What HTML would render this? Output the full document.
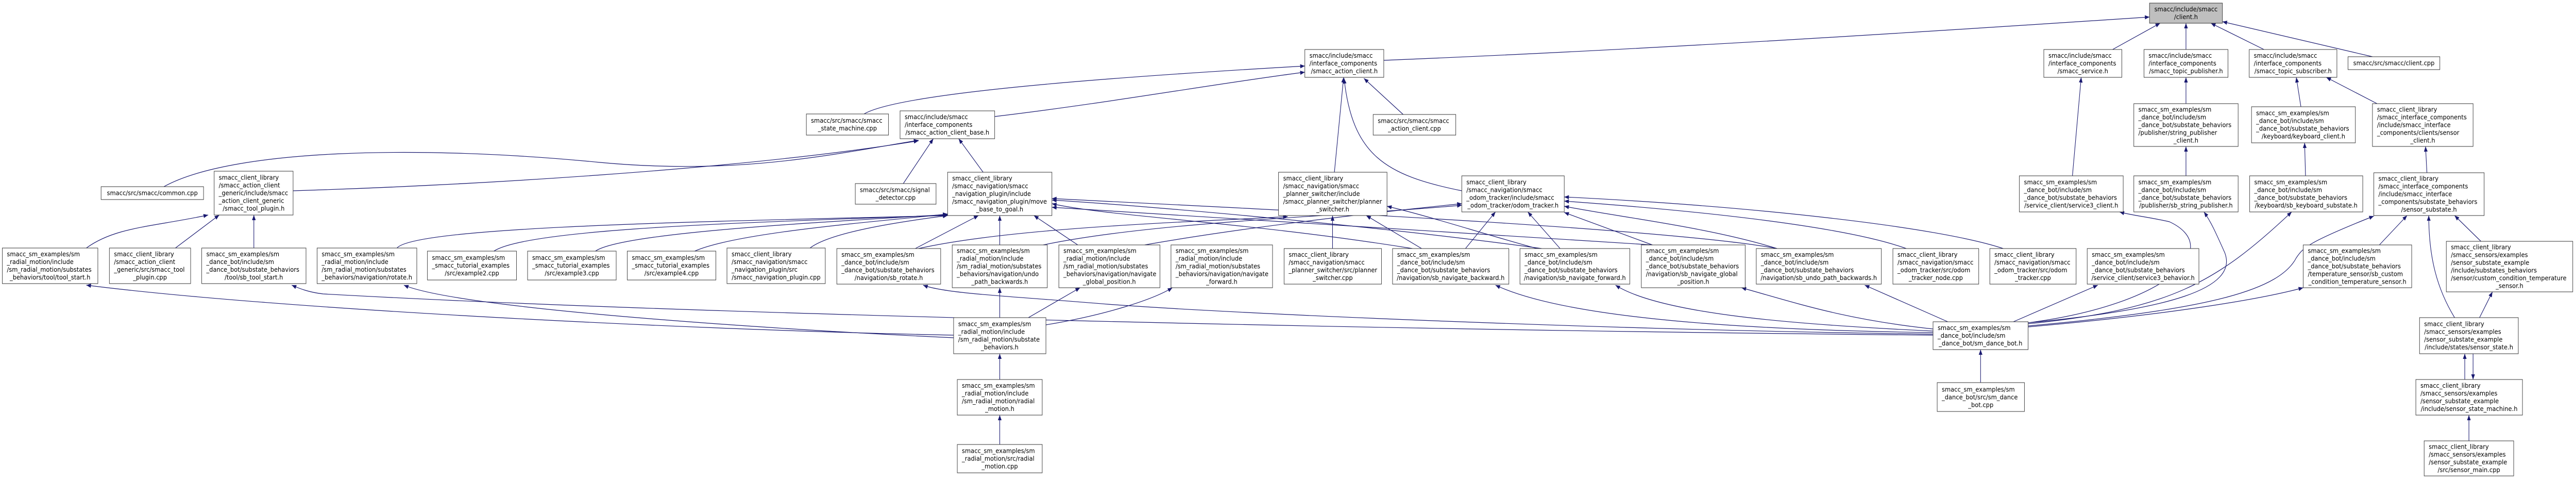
<!DOCTYPE html>
<html><head><meta charset="utf-8"><style>
html,body{margin:0;padding:0;width:100%;height:100%;overflow:hidden;background:#fff}
svg{position:fixed;left:0;top:0;width:100vw;height:100vh;display:block}
text{font-family:"DejaVu Sans","Liberation Sans",sans-serif;font-size:12.8px;fill:#000}
.c{text-anchor:middle}
rect{fill:#fff;stroke:#333;stroke-width:1}
</style></head><body>
<svg viewBox="0 0 5581 927" preserveAspectRatio="none">
<defs><marker id="a" viewBox="0 0 10 8" refX="10" refY="4" markerWidth="11" markerHeight="8" markerUnits="userSpaceOnUse" orient="auto"><path d="M0,0L10,4L0,8z" fill="#191970"/></marker></defs>
<g fill="none" stroke="#191970" stroke-width="1.2" marker-end="url(#a)">
<path d="M2998,117 C3600,95 4200,60 4657,33"/>
<path d="M4577,96 L4680,45"/>
<path d="M4736,96 L4736,45"/>
<path d="M4905,96 L4790,45"/>
<path d="M5140,110 L4815,42"/>
<path d="M2155,226 C2400,200 2650,160 2827,140"/>
<path d="M1872,221 C1950,180 2400,150 2827,128"/>
<path d="M2891,334 L2911,150"/>
<path d="M3167,370 C3000,340 2930,300 2912,152"/>
<path d="M3040,222 L2955,152"/>
<path d="M355,362 C500,290 900,280 1300,315 C1600,340 1800,300 1990,272"/>
<path d="M635,370 C1000,360 1600,330 1990,273"/>
<path d="M1957,356 L2022,269"/>
<path d="M2130,334 L2077,269"/>
<path d="M187,481 C250,440 330,440 451,417"/>
<path d="M380,481 L475,417"/>
<path d="M550,481 L550,417"/>
<path d="M4490,341 L4509,150"/>
<path d="M4736,201 L4736,150"/>
<path d="M4736,341 L4736,284"/>
<path d="M4985,207 L4975,150"/>
<path d="M5150,201 L5040,150"/>
<path d="M4995,341 L4993,277"/>
<path d="M5258,335 L5255,284"/>
<path d="M5155,475 L5215,418"/>
<path d="M5375,468 L5318,418"/>
<path d="M5318,616 C5280,560 5262,500 5262,418"/>
<path d="M5372,616 L5400,566"/>
<path d="M5340,736 L5340,686"/>
<path d="M5358,686 L5358,736"/>
<path d="M5349,855 L5349,805"/>
<path d="M4394,632 C4800,600 4940,560 4975,500 C4990,480 5000,470 5143,419"/>
<path d="M4394,634 C4700,610 4900,580 4990,558"/>
<path d="M4394,628 C4700,600 4800,550 4965,411"/>
<path d="M4394,626 C4700,600 4850,560 4820,490 C4800,450 4790,430 4775,411"/>
<path d="M4394,626 C4700,590 4820,480 4700,430 C4650,420 4620,418 4592,411"/>
<path d="M4362,624 L4545,553"/>
<path d="M4291,742 L4291,678"/>
<path d="M4220,624 L4040,553"/>
<path d="M4188,638 C4000,620 3900,590 3773,558"/>
<path d="M4188,642 C3900,630 3600,610 3500,553"/>
<path d="M4188,645 C3800,640 3400,620 3240,553"/>
<path d="M4188,648 C3500,640 2700,610 2400,590 C2200,575 2050,570 2000,553"/>
<path d="M4188,650 C3000,640 1500,610 700,570 C670,567 650,560 632,553"/>
<path d="M2066,650 C1500,640 600,600 187,553"/>
<path d="M2066,655 C1700,640 1000,600 875,553"/>
<path d="M2166,616 L2166,558"/>
<path d="M2228,616 L2340,558"/>
<path d="M2266,630 C2400,610 2500,580 2540,558"/>
<path d="M2166,736 L2166,686"/>
<path d="M2166,862 L2166,805"/>
<path d="M860,481 C900,440 1500,430 2053,418"/>
<path d="M1983,482 L2120,418"/>
<path d="M1070,487 C1150,440 1700,430 2053,417"/>
<path d="M1290,487 C1350,450 1800,430 2053,416"/>
<path d="M1505,487 C1600,450 1900,430 2053,415"/>
<path d="M1755,481 C1800,450 1950,430 2053,418"/>
<path d="M2166,475 L2166,418"/>
<path d="M2335,475 L2240,418"/>
<path d="M3060,482 C2700,430 2400,420 2279,395"/>
<path d="M3340,482 C3000,440 2500,400 2279,388"/>
<path d="M3850,482 C3600,440 2600,400 2279,385"/>
<path d="M3580,475 L2279,402"/>
<path d="M2887,482 L2887,418"/>
<path d="M3080,482 L2960,418"/>
<path d="M3330,482 C3200,450 3100,420 3005,400"/>
<path d="M1990,482 C2200,440 2600,430 2790,420"/>
<path d="M3175,482 L3240,411"/>
<path d="M3380,482 L3310,411"/>
<path d="M3580,475 L3389,412"/>
<path d="M4130,482 C4000,440 3700,410 3389,390"/>
<path d="M4340,482 C4200,440 3800,400 3389,382"/>
<path d="M2260,475 C2500,430 2900,420 3167,398"/>
<path d="M2480,475 C2700,440 3000,410 3167,395"/>
<path d="M3850,482 C3700,440 3500,420 3389,400"/>
</g>

<rect x="4657" y="6" width="158" height="39" style="fill:#bfbfbf"/>
<text class="c" x="4736" y="22">smacc/include/smacc</text><text class="c" x="4736" y="37">/client.h</text>

<rect x="2827" y="96" width="171" height="54"/>
<text x="2837" y="112">smacc/include/smacc</text><text x="2837" y="127">/interface_components</text><text class="c" x="2912.5" y="142">/smacc_action_client.h</text>

<rect x="4428" y="96" width="169" height="54"/>
<text x="4438" y="112">smacc/include/smacc</text><text x="4438" y="127">/interface_components</text><text class="c" x="4512.5" y="142">/smacc_service.h</text>

<rect x="4645" y="96" width="182" height="54"/>
<text x="4655" y="112">smacc/include/smacc</text><text x="4655" y="127">/interface_components</text><text class="c" x="4736" y="142">/smacc_topic_publisher.h</text>

<rect x="4873" y="96" width="190" height="54"/>
<text x="4883" y="112">smacc/include/smacc</text><text x="4883" y="127">/interface_components</text><text class="c" x="4968" y="142">/smacc_topic_subscriber.h</text>

<rect x="5087" y="110" width="199" height="25"/>
<text class="c" x="5186.5" y="126.5">smacc/src/smacc/client.cpp</text>

<rect x="1747" y="221" width="178" height="41"/>
<text x="1757" y="238">smacc/src/smacc/smacc</text><text class="c" x="1836" y="253">_state_machine.cpp</text>

<rect x="1950" y="215" width="205" height="54"/>
<text x="1960" y="231">smacc/include/smacc</text><text x="1960" y="246">/interface_components</text><text class="c" x="2052.5" y="261">/smacc_action_client_base.h</text>

<rect x="2975" y="222" width="179" height="40"/>
<text x="2985" y="238.5">smacc/src/smacc/smacc</text><text class="c" x="3064.5" y="253.5">_action_client.cpp</text>

<rect x="219" y="362" width="222" height="25"/>
<text class="c" x="330" y="378.5">smacc/src/smacc/common.cpp</text>

<rect x="464" y="332" width="171" height="85"/>
<text x="474" y="348.5">smacc_client_library</text><text x="474" y="363.5">/smacc_action_client</text><text x="474" y="378.5">_generic/include/smacc</text><text x="474" y="393.5">_action_client_generic</text><text class="c" x="549.5" y="408.5">/smacc_tool_plugin.h</text>

<rect x="1853" y="356" width="175" height="40"/>
<text x="1863" y="372.5">smacc/src/smacc/signal</text><text class="c" x="1940.5" y="387.5">_detector.cpp</text>

<rect x="2053" y="334" width="226" height="84"/>
<text x="2063" y="350">smacc_client_library</text><text x="2063" y="365">/smacc_navigation/smacc</text><text x="2063" y="380">_navigation_plugin/include</text><text x="2063" y="395">/smacc_navigation_plugin/move</text><text class="c" x="2166" y="410">_base_to_goal.h</text>

<rect x="2770" y="334" width="235" height="84"/>
<text x="2780" y="350">smacc_client_library</text><text x="2780" y="365">/smacc_navigation/smacc</text><text x="2780" y="380">_planner_switcher/include</text><text x="2780" y="395">/smacc_planner_switcher/planner</text><text class="c" x="2887.5" y="410">_switcher.h</text>

<rect x="3167" y="341" width="222" height="70"/>
<text x="3177" y="357.5">smacc_client_library</text><text x="3177" y="372.5">/smacc_navigation/smacc</text><text x="3177" y="387.5">_odom_tracker/include/smacc</text><text class="c" x="3278" y="402.5">_odom_tracker/odom_tracker.h</text>

<rect x="4375" y="341" width="225" height="70"/>
<text x="4385" y="357.5">smacc_sm_examples/sm</text><text x="4385" y="372.5">_dance_bot/include/sm</text><text x="4385" y="387.5">_dance_bot/substate_behaviors</text><text class="c" x="4487.5" y="402.5">/service_client/service3_client.h</text>

<rect x="4623" y="201" width="226" height="83"/>
<text x="4633" y="216.5">smacc_sm_examples/sm</text><text x="4633" y="231.5">_dance_bot/include/sm</text><text x="4633" y="246.5">_dance_bot/substate_behaviors</text><text x="4633" y="261.5">/publisher/string_publisher</text><text class="c" x="4736" y="276.5">_client.h</text>

<rect x="4878" y="207" width="225" height="70"/>
<text x="4888" y="223.5">smacc_sm_examples/sm</text><text x="4888" y="238.5">_dance_bot/include/sm</text><text x="4888" y="253.5">_dance_bot/substate_behaviors</text><text class="c" x="4990.5" y="268.5">/keyboard/keyboard_client.h</text>

<rect x="5140" y="201" width="218" height="83"/>
<text x="5150" y="216.5">smacc_client_library</text><text x="5150" y="231.5">/smacc_interface_components</text><text x="5150" y="246.5">/include/smacc_interface</text><text x="5150" y="261.5">_components/clients/sensor</text><text class="c" x="5249" y="276.5">_client.h</text>

<rect x="4623" y="341" width="226" height="70"/>
<text x="4633" y="357.5">smacc_sm_examples/sm</text><text x="4633" y="372.5">_dance_bot/include/sm</text><text x="4633" y="387.5">_dance_bot/substate_behaviors</text><text class="c" x="4736" y="402.5">/publisher/sb_string_publisher.h</text>

<rect x="4874" y="341" width="245" height="70"/>
<text x="4884" y="357.5">smacc_sm_examples/sm</text><text x="4884" y="372.5">_dance_bot/include/sm</text><text x="4884" y="387.5">_dance_bot/substate_behaviors</text><text class="c" x="4996.5" y="402.5">/keyboard/sb_keyboard_substate.h</text>

<rect x="5143" y="335" width="239" height="83"/>
<text x="5153" y="350.5">smacc_client_library</text><text x="5153" y="365.5">/smacc_interface_components</text><text x="5153" y="380.5">/include/smacc_interface</text><text x="5153" y="395.5">_components/substate_behaviors</text><text class="c" x="5262.5" y="410.5">/sensor_substate.h</text>

<rect x="5" y="481" width="207" height="69"/>
<text x="15" y="497">smacc_sm_examples/sm</text><text x="15" y="512">_radial_motion/include</text><text x="15" y="527">/sm_radial_motion/substates</text><text class="c" x="108.5" y="542">_behaviors/tool/tool_start.h</text>

<rect x="237" y="481" width="176" height="69"/>
<text x="247" y="497">smacc_client_library</text><text x="247" y="512">/smacc_action_client</text><text x="247" y="527">_generic/src/smacc_tool</text><text class="c" x="325" y="542">_plugin.cpp</text>

<rect x="437" y="481" width="226" height="69"/>
<text x="447" y="497">smacc_sm_examples/sm</text><text x="447" y="512">_dance_bot/include/sm</text><text x="447" y="527">_dance_bot/substate_behaviors</text><text class="c" x="550" y="542">/tool/sb_tool_start.h</text>

<rect x="687" y="481" width="216" height="69"/>
<text x="697" y="497">smacc_sm_examples/sm</text><text x="697" y="512">_radial_motion/include</text><text x="697" y="527">/sm_radial_motion/substates</text><text class="c" x="795" y="542">_behaviors/navigation/rotate.h</text>

<rect x="926" y="487" width="193" height="56"/>
<text x="936" y="504">smacc_sm_examples/sm</text><text x="936" y="519">_smacc_tutorial_examples</text><text class="c" x="1022.5" y="534">/src/example2.cpp</text>

<rect x="1143" y="487" width="192" height="56"/>
<text x="1153" y="504">smacc_sm_examples/sm</text><text x="1153" y="519">_smacc_tutorial_examples</text><text class="c" x="1239" y="534">/src/example3.cpp</text>

<rect x="1359" y="487" width="192" height="56"/>
<text x="1369" y="504">smacc_sm_examples/sm</text><text x="1369" y="519">_smacc_tutorial_examples</text><text class="c" x="1455" y="534">/src/example4.cpp</text>

<rect x="1575" y="481" width="213" height="69"/>
<text x="1585" y="497">smacc_client_library</text><text x="1585" y="512">/smacc_navigation/smacc</text><text x="1585" y="527">_navigation_plugin/src</text><text class="c" x="1681.5" y="542">/smacc_navigation_plugin.cpp</text>

<rect x="1813" y="482" width="225" height="69"/>
<text x="1823" y="498">smacc_sm_examples/sm</text><text x="1823" y="513">_dance_bot/include/sm</text><text x="1823" y="528">_dance_bot/substate_behaviors</text><text class="c" x="1925.5" y="543">/navigation/sb_rotate.h</text>

<rect x="2063" y="475" width="206" height="83"/>
<text x="2073" y="490.5">smacc_sm_examples/sm</text><text x="2073" y="505.5">_radial_motion/include</text><text x="2073" y="520.5">/sm_radial_motion/substates</text><text x="2073" y="535.5">_behaviors/navigation/undo</text><text class="c" x="2166" y="550.5">_path_backwards.h</text>

<rect x="2294" y="475" width="219" height="83"/>
<text x="2304" y="490.5">smacc_sm_examples/sm</text><text x="2304" y="505.5">_radial_motion/include</text><text x="2304" y="520.5">/sm_radial_motion/substates</text><text x="2304" y="535.5">_behaviors/navigation/navigate</text><text class="c" x="2403.5" y="550.5">_global_position.h</text>

<rect x="2537" y="475" width="220" height="83"/>
<text x="2547" y="490.5">smacc_sm_examples/sm</text><text x="2547" y="505.5">_radial_motion/include</text><text x="2547" y="520.5">/sm_radial_motion/substates</text><text x="2547" y="535.5">_behaviors/navigation/navigate</text><text class="c" x="2647" y="550.5">_forward.h</text>

<rect x="2782" y="482" width="211" height="69"/>
<text x="2792" y="498">smacc_client_library</text><text x="2792" y="513">/smacc_navigation/smacc</text><text x="2792" y="528">_planner_switcher/src/planner</text><text class="c" x="2887.5" y="543">_switcher.cpp</text>

<rect x="3017" y="482" width="252" height="69"/>
<text x="3027" y="498">smacc_sm_examples/sm</text><text x="3027" y="513">_dance_bot/include/sm</text><text x="3027" y="528">_dance_bot/substate_behaviors</text><text class="c" x="3143" y="543">/navigation/sb_navigate_backward.h</text>

<rect x="3293" y="482" width="238" height="69"/>
<text x="3303" y="498">smacc_sm_examples/sm</text><text x="3303" y="513">_dance_bot/include/sm</text><text x="3303" y="528">_dance_bot/substate_behaviors</text><text class="c" x="3412" y="543">/navigation/sb_navigate_forward.h</text>

<rect x="3556" y="475" width="225" height="83"/>
<text x="3566" y="490.5">smacc_sm_examples/sm</text><text x="3566" y="505.5">_dance_bot/include/sm</text><text x="3566" y="520.5">_dance_bot/substate_behaviors</text><text x="3566" y="535.5">/navigation/sb_navigate_global</text><text class="c" x="3668.5" y="550.5">_position.h</text>

<rect x="3805" y="482" width="271" height="69"/>
<text x="3815" y="498">smacc_sm_examples/sm</text><text x="3815" y="513">_dance_bot/include/sm</text><text x="3815" y="528">_dance_bot/substate_behaviors</text><text class="c" x="3940.5" y="543">/navigation/sb_undo_path_backwards.h</text>

<rect x="4101" y="482" width="186" height="69"/>
<text x="4111" y="498">smacc_client_library</text><text x="4111" y="513">/smacc_navigation/smacc</text><text x="4111" y="528">_odom_tracker/src/odom</text><text class="c" x="4194" y="543">_tracker_node.cpp</text>

<rect x="4311" y="482" width="187" height="69"/>
<text x="4321" y="498">smacc_client_library</text><text x="4321" y="513">/smacc_navigation/smacc</text><text x="4321" y="528">_odom_tracker/src/odom</text><text class="c" x="4404.5" y="543">_tracker.cpp</text>

<rect x="4522" y="482" width="242" height="69"/>
<text x="4532" y="498">smacc_sm_examples/sm</text><text x="4532" y="513">_dance_bot/include/sm</text><text x="4532" y="528">_dance_bot/substate_behaviors</text><text class="c" x="4643" y="543">/service_client/service3_behavior.h</text>

<rect x="4990" y="475" width="235" height="83"/>
<text x="5000" y="490.5">smacc_sm_examples/sm</text><text x="5000" y="505.5">_dance_bot/include/sm</text><text x="5000" y="520.5">_dance_bot/substate_behaviors</text><text x="5000" y="535.5">/temperature_sensor/sb_custom</text><text class="c" x="5107.5" y="550.5">_condition_temperature_sensor.h</text>

<rect x="5300" y="468" width="274" height="98"/>
<text x="5310" y="483.5">smacc_client_library</text><text x="5310" y="498.5">/smacc_sensors/examples</text><text x="5310" y="513.5">/sensor_substate_example</text><text x="5310" y="528.5">/include/substates_behaviors</text><text x="5310" y="543.5">/sensor/custom_condition_temperature</text><text class="c" x="5437" y="558.5">_sensor.h</text>

<rect x="2066" y="616" width="200" height="70"/>
<text x="2076" y="632.5">smacc_sm_examples/sm</text><text x="2076" y="647.5">_radial_motion/include</text><text x="2076" y="662.5">/sm_radial_motion/substate</text><text class="c" x="2166" y="677.5">_behaviors.h</text>

<rect x="4188" y="624" width="206" height="54"/>
<text x="4198" y="640">smacc_sm_examples/sm</text><text x="4198" y="655">_dance_bot/include/sm</text><text class="c" x="4291" y="670">_dance_bot/sm_dance_bot.h</text>

<rect x="5242" y="616" width="214" height="70"/>
<text x="5252" y="632.5">smacc_client_library</text><text x="5252" y="647.5">/smacc_sensors/examples</text><text x="5252" y="662.5">/sensor_substate_example</text><text class="c" x="5349" y="677.5">/include/states/sensor_state.h</text>

<rect x="2074" y="736" width="184" height="69"/>
<text x="2084" y="752">smacc_sm_examples/sm</text><text x="2084" y="767">_radial_motion/include</text><text x="2084" y="782">/sm_radial_motion/radial</text><text class="c" x="2166" y="797">_motion.h</text>

<rect x="4197" y="742" width="189" height="56"/>
<text x="4207" y="759.5">smacc_sm_examples/sm</text><text x="4207" y="774.5">_dance_bot/src/sm_dance</text><text class="c" x="4291.5" y="789.5">_bot.cpp</text>

<rect x="5234" y="736" width="231" height="69"/>
<text x="5244" y="752">smacc_client_library</text><text x="5244" y="767">/smacc_sensors/examples</text><text x="5244" y="782">/sensor_substate_example</text><text class="c" x="5349.5" y="797">/include/sensor_state_machine.h</text>

<rect x="2074" y="862" width="184" height="55"/>
<text x="2084" y="878.5">smacc_sm_examples/sm</text><text x="2084" y="893.5">_radial_motion/src/radial</text><text class="c" x="2166" y="908.5">_motion.cpp</text>

<rect x="5252" y="855" width="194" height="68"/>
<text x="5262" y="870.5">smacc_client_library</text><text x="5262" y="885.5">/smacc_sensors/examples</text><text x="5262" y="900.5">/sensor_substate_example</text><text class="c" x="5349" y="915.5">/src/sensor_main.cpp</text>
</svg>
</body></html>
